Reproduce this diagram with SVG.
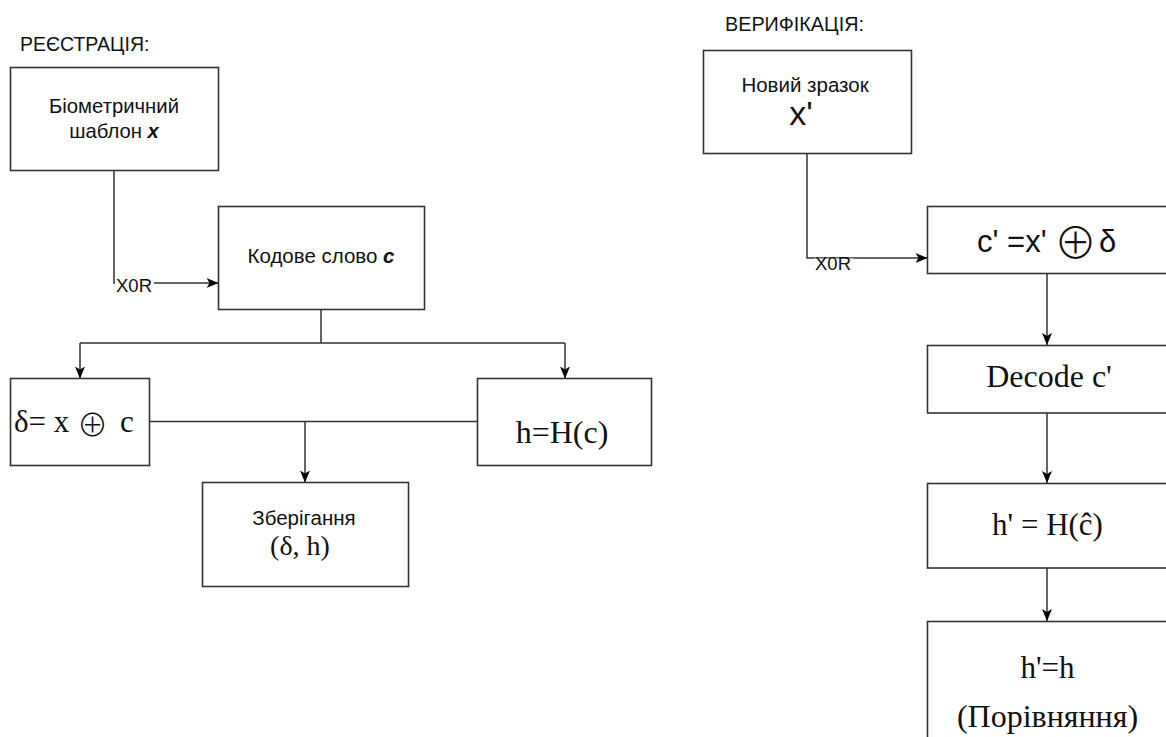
<svg xmlns="http://www.w3.org/2000/svg" width="1166" height="737" viewBox="0 0 1166 737">
<defs>
<marker id="arr" viewBox="0 0 12 10" refX="12" refY="5" markerWidth="12" markerHeight="10" markerUnits="userSpaceOnUse" orient="auto">
<path d="M0,0 L12,5 L0,10 L3,5 Z" fill="#000"/>
</marker>
<style>
.box{fill:#fff;stroke:#333;stroke-width:1.6}
.ln{fill:none;stroke:#333;stroke-width:1.5}
.ar{marker-end:url(#arr)}
.sans{font-family:"Liberation Sans",Arial,sans-serif;fill:#111}
.serif{font-family:"Liberation Serif","Times New Roman","DejaVu Serif",serif;fill:#111}
.mid{text-anchor:middle}
.lbl{fill:#fff;stroke:none}
.oplus{font-family:"Noto Sans CJK SC","DejaVu Sans",sans-serif;font-weight:300}
</style>
</defs>
<rect x="0" y="0" width="1166" height="737" fill="#fff"/>

<text class="sans" x="20" y="51" font-size="19.5">РЕЄСТРАЦІЯ:</text>
<text class="sans" x="725" y="31" font-size="19.8">ВЕРИФІКАЦІЯ:</text>

<g id="connectors">
<path class="ln ar" d="M114,170.5 V283 H218.5"/>
<rect class="lbl" x="115" y="276" width="39" height="18"/>
<text class="sans" x="116" y="292" font-size="18.5">X0R</text>
<path class="ln" d="M321,309.5 V343 M80,343 H565"/>
<path class="ln ar" d="M80,343 V378.5"/>
<path class="ln ar" d="M565,343 V378.5"/>
<path class="ln" d="M149.5,421.5 H477.5"/>
<path class="ln ar" d="M305,421.5 V482.5"/>
<path class="ln ar" d="M807,153.5 V258 H927.5"/>
<rect class="lbl" x="814" y="258.5" width="40" height="14"/>
<text class="sans" x="815" y="270" font-size="18.5">X0R</text>
<path class="ln ar" d="M1047,273.5 V345"/>
<path class="ln ar" d="M1047,413 V483"/>
<path class="ln ar" d="M1047,568 V621"/>
</g>

<g id="n-biometric">
<rect class="box" x="10.5" y="67.5" width="208" height="103"/>
<text class="sans mid" x="114" y="113" font-size="20.3">Біометричний</text>
<text class="sans mid" x="114" y="138" font-size="20.3">шаблон <tspan font-weight="bold" font-style="italic">x</tspan></text>
</g>

<g id="n-codeword">
<rect class="box" x="218.5" y="206.5" width="206" height="103"/>
<text class="sans mid" x="321" y="263" font-size="20.5">Кодове слово <tspan font-weight="bold" font-style="italic">c</tspan></text>
</g>

<g id="n-delta">
<rect class="box" x="10.5" y="378.5" width="139" height="87"/>
<text class="serif" x="14" y="432" font-size="31">δ= x <tspan class="oplus" x="77" y="436" font-size="31">⊕</tspan><tspan x="120" y="432">c</tspan></text>
</g>

<g id="n-hash">
<rect class="box" x="477.5" y="378.5" width="174" height="87"/>
<text class="serif mid" x="562" y="443" font-size="32">h=H(c)</text>
</g>

<g id="n-store">
<rect class="box" x="202.5" y="482.5" width="206" height="104"/>
<text class="sans mid" x="304" y="525" font-size="20.5">Зберігання</text>
<text class="serif mid" x="300" y="555" font-size="28">(δ, h)</text>
</g>

<g id="n-new">
<rect class="box" x="703.5" y="50.5" width="208" height="103"/>
<text class="sans mid" x="805" y="92" font-size="20.5">Новий зразок</text>
<text class="sans mid" x="801" y="125" font-size="34">x'</text>
</g>

<g id="n-cprime">
<rect class="box" x="927.5" y="206.5" width="240" height="67"/>
<text class="sans" x="977" y="252" font-size="31">c' =x'<tspan class="oplus" x="1054" y="259" font-size="43">⊕</tspan><tspan x="1099" y="252">δ</tspan></text>
</g>

<g id="n-decode">
<rect class="box" x="927.5" y="345.5" width="240" height="67.5"/>
<text class="serif mid" x="1049" y="387" font-size="32">Decode c'</text>
</g>

<g id="n-hprime">
<rect class="box" x="927.5" y="483.5" width="240" height="84.5"/>
<text class="serif mid" x="1047.5" y="535" font-size="31">h' = H(ĉ)</text>
</g>

<g id="n-compare">
<rect class="box" x="927.5" y="621.5" width="240" height="200"/>
<text class="serif mid" x="1047.5" y="678" font-size="31">h'=h</text>
<text class="serif mid" x="1047.5" y="727" font-size="32">(Порівняння)</text>
</g>
</svg>
